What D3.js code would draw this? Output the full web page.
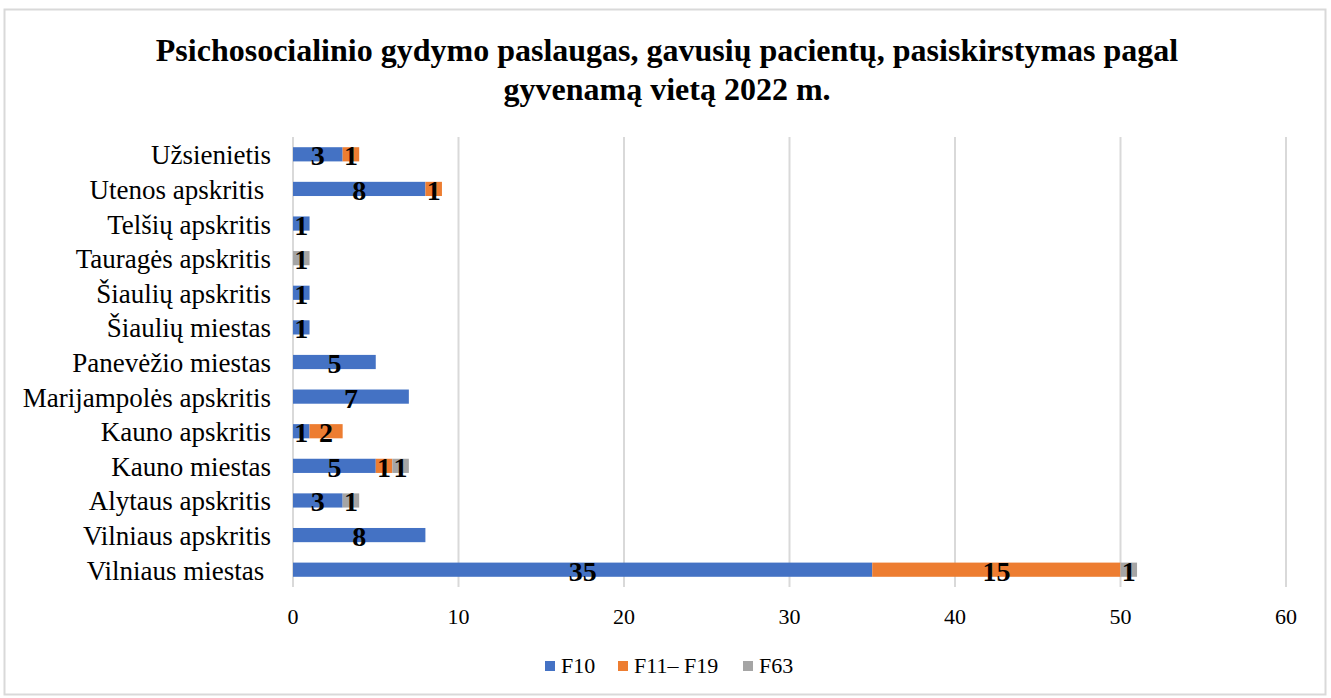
<!DOCTYPE html>
<html><head><meta charset="utf-8">
<script src="https://cdn.jsdelivr.net/npm/d3@7"></script>
<style>body{margin:0;background:#fff}svg{display:block}</style>
</head><body><svg id="c" width="1331" height="698"></svg>
<script>
const categories = ["Užsienietis","Utenos apskritis ","Telšių apskritis","Tauragės apskritis","Šiaulių apskritis","Šiaulių miestas","Panevėžio miestas","Marijampolės apskritis","Kauno apskritis","Kauno miestas","Alytaus apskritis","Vilniaus apskritis","Vilniaus miestas "];
const seriesNames = ["F10","F11– F19","F63"];
const f10 = [3,8,1,0,1,1,5,7,1,5,3,8,35];
const f11 = [1,1,0,0,0,0,0,0,2,1,0,0,15];
const f63 = [0,0,0,1,0,0,0,0,0,1,1,0,1];
const colors = ["#4472C4","#ED7D31","#A5A5A5"];
const xTicks = [0,10,20,30,40,50,60];
const title = ["Psichosocialinio gydymo paslaugas, gavusių pacientų, pasiskirstymas pagal","gyvenamą vietą 2022 m."];

const svg = d3.select("#c");
const font = "'Liberation Serif','Times New Roman',serif";
svg.append("rect").attr("x",4.5).attr("y",9.5).attr("width",1321).attr("height",685).attr("fill","#fff").attr("stroke","#d9d9d9").attr("stroke-width",2);

const t = svg.append("text").attr("text-anchor","middle").attr("font-family",font).attr("font-weight","bold").attr("font-size",32).attr("fill","#000");
title.forEach((l,i)=>t.append("tspan").attr("x",667).attr("y",61+i*39).text(l));

const x = d3.scaleLinear().domain([0,60]).range([293,1286]);
const y = d3.scaleBand().domain(categories).range([137,587]).paddingInner(0.59).paddingOuter(0.295);

svg.append("g").selectAll("line").data(xTicks).join("line")
  .attr("x1",d=>x(d)).attr("x2",d=>x(d)).attr("y1",137).attr("y2",587)
  .attr("stroke","#d9d9d9").attr("stroke-width",2);

const rows = categories.map((c,i)=>({c, v:[f10[i],f11[i],f63[i]]}));
const segs = [];
rows.forEach(r=>{let acc=0; r.v.forEach((v,k)=>{ if(v>0) segs.push({c:r.c,k,x0:acc,x1:acc+v,v}); acc+=v;});});

svg.append("g").selectAll("rect").data(segs).join("rect")
  .attr("x",d=>x(d.x0)).attr("width",d=>x(d.x1)-x(d.x0))
  .attr("y",d=>y(d.c)).attr("height",y.bandwidth())
  .attr("fill",d=>colors[d.k]);

svg.append("g").selectAll("text").data(segs).join("text")
  .attr("x",d=>x((d.x0+d.x1)/2)).attr("y",d=>y(d.c)+y.bandwidth()/2+11)
  .attr("text-anchor","middle").attr("font-family",font).attr("font-weight","bold").attr("font-size",28)
  .text(d=>d.v);

svg.append("g").selectAll("text").data(categories).join("text")
  .attr("x",271).attr("y",d=>y(d)+y.bandwidth()/2+10)
  .attr("text-anchor","end").attr("font-family",font).attr("font-size",27).attr("xml:space","preserve").style("white-space","pre")
  .text(d=>d);

svg.append("g").selectAll("text").data(xTicks).join("text")
  .attr("x",d=>x(d)).attr("y",624).attr("text-anchor","middle").attr("font-family",font).attr("font-size",22).attr("fill","#000")
  .text(d=>d);

const legX = [545,618,743];
const lg = svg.append("g").selectAll("g").data(seriesNames).join("g").attr("transform",(d,i)=>`translate(${legX[i]},666)`);
lg.append("rect").attr("x",0).attr("y",-5).attr("width",10).attr("height",10).attr("fill",(d,i)=>colors[i]);
lg.append("text").attr("x",16).attr("y",7).attr("font-family",font).attr("font-size",22).text(d=>d);
</script></body></html>
